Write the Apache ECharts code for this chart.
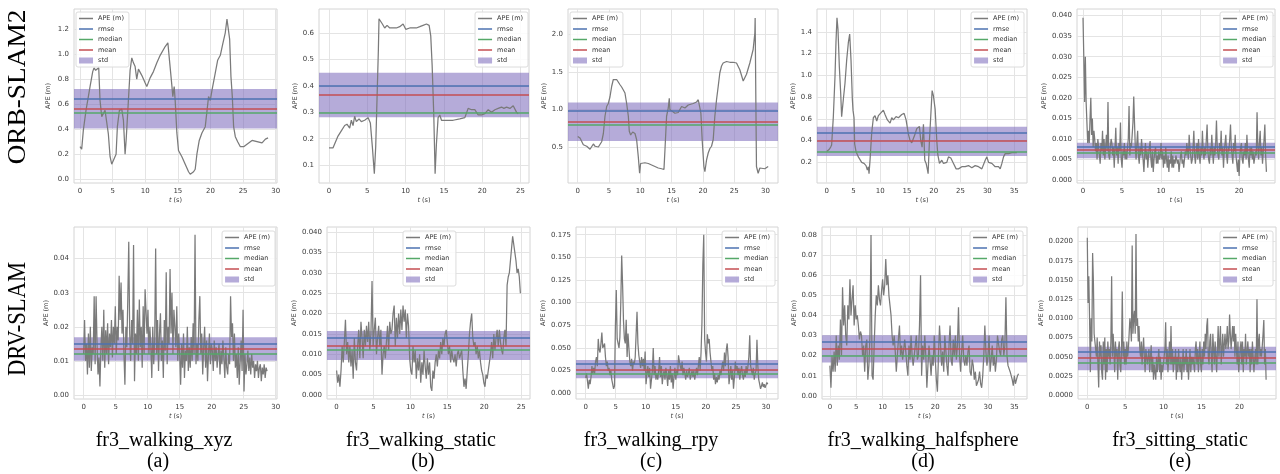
<!DOCTYPE html>
<html><head><meta charset="utf-8">
<script src="https://cdn.jsdelivr.net/npm/echarts@6/dist/echarts.min.js"></script>
<style>html,body{margin:0;padding:0;background:#fff}#c{width:1280px;height:474px}</style>
</head><body><div id="c"></div>
<script>
// ---------------- DATA ----------------
const rowLabels = ['ORB-SLAM2', 'DRV-SLAM'];
const seqNames = ['fr3_walking_xyz', 'fr3_walking_static', 'fr3_walking_rpy', 'fr3_walking_halfsphere', 'fr3_sitting_static'];
const subLetters = ['(a)', '(b)', '(c)', '(d)', '(e)'];
const legendNames = ['APE (m)', 'rmse', 'median', 'mean', 'std'];

// ORB-SLAM2 APE traces, [t (s), APE (m)]
const orbXyz = [[0,0.26],[0.26,0.24],[0.51,0.39],[0.92,0.55],[1.28,0.66],[1.54,0.74],[1.95,0.86],[2.15,0.89],[2.4,0.87],[2.56,0.88],[2.87,0.89],[3.07,0.63],[3.33,0.50],[3.58,0.51],[3.84,0.55],[4.10,0.54],[4.35,0.36],[4.61,0.18],[4.86,0.12],[5.12,0.12],[5.53,0.20],[5.73,0.42],[6.04,0.55],[6.40,0.56],[6.66,0.47],[6.91,0.20],[7.07,0.31],[7.42,0.63],[7.68,0.87],[7.94,0.97],[8.19,0.93],[8.45,0.90],[8.70,0.80],[8.96,0.88],[9.47,0.83],[9.98,0.77],[10.24,0.74],[10.75,0.81],[11.26,0.86],[11.78,0.93],[12.29,0.99],[13.06,1.06],[13.47,1.09],[13.72,0.95],[14.08,0.75],[14.23,0.66],[14.44,0.74],[14.59,0.63],[14.85,0.37],[15.10,0.23],[15.62,0.18],[16.13,0.12],[16.64,0.06],[16.90,0.04],[17.41,0.06],[17.66,0.08],[17.92,0.20],[18.28,0.31],[18.69,0.37],[19.20,0.42],[19.71,0.66],[19.97,0.63],[20.23,0.71],[20.74,0.85],[21.10,0.95],[21.51,0.99],[21.92,1.09],[22.27,1.17],[22.53,1.28],[22.73,1.29],[22.94,1.12],[23.14,0.82],[23.35,0.66],[23.55,0.42],[23.81,0.34],[24.17,0.30],[24.58,0.26],[25.09,0.26],[25.60,0.28],[26.37,0.31],[27.14,0.30],[27.91,0.29],[28.42,0.32],[28.83,0.33]];
const orbStatic = [[0,0.165],[0.52,0.165],[0.74,0.18],[1.18,0.21],[1.61,0.23],[2.05,0.25],[2.35,0.255],[2.70,0.24],[2.92,0.27],[3.14,0.25],[3.35,0.285],[3.57,0.265],[3.92,0.275],[4.22,0.265],[4.66,0.27],[5.10,0.28],[5.40,0.26],[5.66,0.17],[5.92,0.067],[6.10,0.17],[6.27,0.35],[6.45,0.54],[6.53,0.655],[6.71,0.65],[6.97,0.635],[7.27,0.62],[7.58,0.63],[7.93,0.62],[8.36,0.62],[8.80,0.62],[9.23,0.625],[9.67,0.635],[10.02,0.615],[10.54,0.62],[10.98,0.62],[11.41,0.62],[11.85,0.625],[12.28,0.63],[12.72,0.635],[13.07,0.63],[13.28,0.59],[13.46,0.48],[13.68,0.285],[13.85,0.067],[14.02,0.18],[14.24,0.28],[14.46,0.29],[14.68,0.27],[15.33,0.27],[16.20,0.27],[17.07,0.275],[17.73,0.28],[17.94,0.285],[18.16,0.315],[18.60,0.31],[19.03,0.31],[19.47,0.29],[19.90,0.29],[20.34,0.295],[20.78,0.31],[21.21,0.30],[21.65,0.31],[22.08,0.315],[22.52,0.32],[22.82,0.315],[23.17,0.32],[23.61,0.315],[24.04,0.325],[24.48,0.30],[24.69,0.295]];
const orbRpy = [[0,0.64],[0.37,0.62],[0.64,0.60],[0.90,0.53],[1.44,0.51],[1.97,0.47],[2.23,0.48],[2.50,0.54],[2.77,0.51],[3.30,0.50],[3.83,0.57],[4.10,0.68],[4.36,0.91],[4.63,1.04],[4.89,1.08],[5.16,1.17],[5.43,1.31],[5.69,1.40],[5.96,1.42],[6.22,1.40],[6.49,1.41],[6.76,1.33],[7.02,1.30],[7.29,1.26],[7.55,1.22],[7.82,1.08],[8.09,0.91],[8.24,0.71],[8.46,0.66],[8.78,0.70],[9.15,0.68],[9.41,0.60],[9.68,0.37],[9.89,0.15],[10.05,0.28],[10.21,0.30],[10.74,0.29],[11.28,0.28],[11.81,0.26],[12.34,0.24],[12.87,0.22],[13.40,0.21],[13.78,0.20],[13.94,0.46],[14.20,0.91],[14.47,1.02],[14.63,1.15],[14.73,1.00],[15.0,1.02],[15.53,0.95],[16.06,0.96],[16.60,1.04],[17.13,1.02],[17.66,1.06],[18.46,1.08],[18.99,1.10],[19.26,1.13],[19.52,1.02],[19.68,0.95],[19.89,0.59],[20.16,0.24],[20.32,0.17],[20.59,0.33],[20.85,0.42],[21.12,0.48],[21.38,0.51],[21.65,0.60],[21.91,0.91],[22.18,1.13],[22.45,1.31],[22.71,1.49],[22.98,1.58],[23.24,1.62],[23.78,1.64],[24.31,1.63],[24.84,1.63],[25.37,1.62],[25.90,1.53],[26.44,1.38],[26.70,1.38],[26.97,1.47],[27.50,1.62],[28.03,1.80],[28.30,2.02],[28.35,2.22],[28.46,1.13],[28.56,0.24],[28.83,0.15],[29.10,0.22],[29.36,0.24],[29.89,0.21],[30.43,0.24]];
const orbHalf = [[0,0.30],[0.50,0.32],[0.75,0.34],[0.93,0.36],[1.25,0.62],[1.56,0.99],[1.74,1.30],[1.93,1.53],[2.12,1.42],[2.37,1.08],[2.62,0.84],[2.80,0.62],[3.12,0.78],[3.43,0.93],[3.74,1.14],[4.05,1.30],[4.30,1.38],[4.55,1.14],[4.80,0.78],[4.92,0.68],[5.11,0.61],[5.23,0.37],[5.48,0.30],[5.92,0.25],[6.54,0.20],[6.98,0.19],[7.35,0.17],[7.60,0.13],[7.79,0.16],[7.91,0.095],[8.10,0.22],[8.41,0.47],[8.72,0.61],[9.03,0.63],[9.35,0.58],[9.66,0.63],[9.97,0.64],[10.59,0.68],[10.90,0.64],[11.34,0.59],[11.84,0.56],[12.15,0.61],[12.46,0.59],[12.96,0.62],[13.40,0.61],[14.02,0.64],[14.46,0.65],[14.83,0.59],[15.26,0.46],[15.58,0.40],[15.89,0.38],[16.20,0.39],[16.51,0.46],[16.82,0.51],[17.32,0.53],[17.57,0.40],[17.82,0.34],[18.07,0.55],[18.32,0.22],[18.57,0.19],[18.82,0.13],[18.94,0.095],[19.19,0.40],[19.44,0.63],[19.69,0.86],[19.94,0.81],[20.25,0.69],[20.56,0.40],[20.75,0.27],[21.06,0.19],[21.50,0.22],[21.81,0.19],[22.43,0.20],[22.74,0.25],[23.18,0.24],[23.68,0.19],[24.17,0.14],[24.61,0.14],[25.23,0.16],[25.86,0.16],[26.48,0.17],[27.10,0.15],[27.73,0.17],[28.35,0.16],[28.97,0.14],[29.60,0.22],[29.91,0.25],[30.22,0.20],[30.84,0.19],[31.46,0.16],[32.09,0.16],[32.40,0.14],[32.71,0.19],[33.02,0.25],[33.33,0.28],[33.96,0.28],[34.58,0.29],[35.51,0.29]];
// ORB-SLAM2 sitting_static, APE in mm, sampled every 0.1 s
const orbSitDt = 0.1;
const orbSitMm = [39.5,30,19,30,19,19,9,12,9,15, 20,11,15,8,12,10,7,9,5,10, 8,6,4,9,7,12,6,10,5,8, 11,7,19,6,5,8,10,9,6,8, 3,8,12.7,6,8,4,9,7,14,5, 3,7,6,9,5,7,5,8,10,18, 6,9,8,11,14,20.3,14,8,5,9, 12,6,4,8,6,10,7,5,2,6, 9,5,7,3,6,8,9.5,5,3,7, 2,5,7,8,4,6,4,7,5,6, 9,5,7,3,6,4,8,5,3,6, 2,5,4,7,3,6,3,5,4,6, 6,4,5,2,4,6,7,4,5,3, 5,7,6,9,7,5,11,8,6,4, 5,8,12,6,4,7,9,5,10,6, 4,8,6,12,7,5,8,6,10,13.5, 7,5,4,8,6,11,7,4,8,6, 9,14.5,8,6,5,9,7,12,6,8, 3,7,9,11,6,4,8,7,10,13.5, 8,6,4,9,7,11,6,4,2,5, 1,6,8,9,5,4,7,6,9,5, 11,7,5,3,8,6,8,5,7,4, 4,7,6,16.5,8,5,9,12,6,8, 4,7,10,13.5,6,2];

// DRV-SLAM APE traces in mm, regularly sampled
const drvXyzDt = 0.15;
const drvXyzMm = [12,22,10,15,6,18,8,20,7,14, 12,29,9,29,15,6,11,2.5,14,20, 10,25,8,19,12,21,9,18,14,22, 11,20,15,26,12,20,16,35,22,33, 18,25,12,3,20,14,28,45,18,10, 22,15,44,4,18,12,25,10,28,14, 20,8,26,12,31,31,18,25,12,20, 14,5,20,9,16,43,12,22,7,18, 24,10,16,5,22,13,36,9,20,15, 37,18,30,12,25,20,14,26,10,18, 12,3,15,8,18,5,13,10,20,7, 14,8,17,10,21,12,47,9,15,10, 22,29,12,18,6,14,20,8,16,4, 12,18,9,15,13,7,16,10,14,8, 12,15,6,13,9,16,11,5,14,8, 6,12,9,29,17,21,10,18,8,12, 5,14,3,10,16,7,25,1,12,6, 9,13,7,11,6,12,8,10,5,9, 7,10,5,8,9,4,8,6,9,5,8,7];
const drvStaticDt = 0.15;
const drvStaticMm = [6,3,5,2,6,12,8,13,18.5,10, 13,8,12,7,11,4,14,8,6,12, 16,9,18,14,9,16,12,17,13,18, 11,15,28,12,16,19,10,14,17,12, 16,5,10,12,9,13,17,11,18,15, 16,20,22,12,19,14,20,15,21,16, 22,18,21,14,20,17,9,6,5,12, 8,11,4,9,6,10,3,8,5,11, 7,4,9,5,8,2,1,6,4,8, 10,7,11,9,13,10,14,12,15,16, 13,10,12,8,11,9,8,10,7,10, 11,9,10,11,6,2,4,1.5,6,10, 15,18,20,14,12,13,10,12,9,11, 8,6,5,3,2,5,4,6,8,10, 13,9,15,11,14,16,12,16,13,11, 10,14,16,12,27,29,30,33,36,39, 37,35,33,30,31,29,25];
const drvRpyDt = 0.15;
const drvRpyMm = [17,22,14,5,15,10,18,30,22,28, 22,35,40,30,60,48,45,55,67,50, 52,55,40,30,35,25,28,20,25,15, 10,5,8,73,114,60,55,50,62,100, 152,120,80,60,55,81,40,66,50,35, 30,38,25,35,32,40,38,90,55,42, 35,28,40,30,38,25,46,10,22,30, 18,28,5,15,25,50,20,30,15,22, 15,25,40,18,30,10,20,25,15,28, 20,8,25,15,30,12,22,5,18,28, 15,25,20,42,35,30,25,35,20,28, 22,15,25,18,22,28,15,20,25,18, 25,15,22,28,20,30,40,25,45,78, 142,175,60,45,35,65,55,60,45,35, 25,30,15,22,10,18,12,20,15,25, 20,28,35,25,45,30,48,55,40,10, 20,30,15,25,5,18,35,25,30,20, 28,15,25,30,20,15,25,18,30,22, 30,40,64,30,25,20,28,15,22,25, 59,30,15,10,5,8,12,7,10,6, 8,12,10,11];
const drvHalfDt = 0.2;
const drvHalfMm = [15,4,20,12,22,12,30,15,25,18, 38,20,54,35,45,30,25,45,38,58, 40,48,55,35,45,38,40,35,28,32, 30,20,25,12,25,28,8,15,30,80, 10,8,25,40,50,45,55,48,45,52, 58,50,55,68,55,60,50,45,40,30, 25,30,22,12,20,28,35,20,25,18, 18,28,22,15,10,25,18,30,20,15, 15,25,30,18,20,35,60,10,25,18, 30,20,4,15,25,18,10,20,15,30, 18,8,2,20,35,25,15,22,12,30, 30,15,10,25,35,18,15,28,20,30, 18,25,44,20,12,22,30,18,15,20, 15,22,25,12,10,18,15,8,12,5, 5,8,12,6,4,10,20,35,22,15, 20,30,12,18,25,15,20,12,18,30, 30,22,20,28,30,20,25,49,20,15, 15,12,10,8,5,10,6,8,10,11];
const drvSitDt = 0.1;
const drvSitMm = [20.5,12,15.5,10,3,10,7,18.5,15,8, 8,6,5,7.5,4,1,7,5,6.5,3, 2,7,4,7.5,2,6,3,7,5,6, 4,7,15.5,5,8,6,3,7,5,6, 2,6,7,4,3,6,13.5,5,7,4, 6,4,7,5,6,8,10,9,7,19.5, 8,10,11,8,21,9,10,7,9,6, 5,7,4,6,7.5,5,3,6,5,4, 4,6,3,5,6.5,3,5,2,4,3, 2,5,3,4.5,6,3,5,2,4,3, 3,5,6,9.5,4,6,3,5,7,4, 9,4,6,3,5,4,6,2,5,3, 6,4,3,5,2,4,6,3,5,4, 6,3,5,2,4,6,3,5,4,5, 5,3,6,7,4,6,3,5,7,4, 3,6,4,7,5,8,6,9,10,5, 4,7,8,5,3,8,6,4,7,5, 3,6,9,5,7,9,4,6,8,5, 5,8,6,7,9,6,7,10.5,8,6, 6,9,7,9,5,8,6,4,7,3, 3,6,7,4,7,3,6,5,8,4, 4,7,5,6,3,6,4,7,5,3, 3,6,4,12.5,4,7,8,5,6,5, 5,8,9.8,4,6,2];

// statistics (m), order: ORB a-e, DRV a-e
const rmseVals   = [0.64, 0.40, 0.98, 0.474, 0.0082, 0.0150, 0.0141, 0.0324, 0.0269, 0.00565];
const medianVals = [0.53, 0.30, 0.80, 0.295, 0.0067, 0.0120, 0.0111, 0.0217, 0.0199, 0.00422];
const meanVals   = [0.56, 0.365, 0.835, 0.394, 0.0073, 0.0135, 0.0122, 0.0265, 0.0233, 0.00483];
const stdLow     = [0.405, 0.281, 0.58, 0.258, 0.0053, 0.0100, 0.0086, 0.0165, 0.0166, 0.00326];
const stdHigh    = [0.72, 0.45, 1.094, 0.527, 0.0091, 0.0169, 0.0157, 0.0368, 0.0301, 0.0063];

// tick labels
const xTicks30 = [0, 5, 10, 15, 20, 25, 30];
const xTicks25 = [0, 5, 10, 15, 20, 25];
const xTicks35 = [0, 5, 10, 15, 20, 25, 30, 35];
const xTicks20 = [0, 5, 10, 15, 20];
const yTicksOrbXyz = [0.0, 0.2, 0.4, 0.6, 0.8, 1.0, 1.2];
const yTicksOrbStatic = [0.1, 0.2, 0.3, 0.4, 0.5, 0.6];
const yTicksOrbRpy = [0.5, 1.0, 1.5, 2.0];
const yTicksOrbHalf = [0.2, 0.4, 0.6, 0.8, 1.0, 1.2, 1.4];
const yTicksOrbSit = [0, 0.005, 0.010, 0.015, 0.020, 0.025, 0.030, 0.035, 0.040];
const yTicksDrvXyz = [0, 0.01, 0.02, 0.03, 0.04];
const yTicksDrvStatic = [0, 0.005, 0.010, 0.015, 0.020, 0.025, 0.030, 0.035, 0.040];
const yTicksDrvRpy = [0, 0.025, 0.050, 0.075, 0.100, 0.125, 0.150, 0.175];
const yTicksDrvHalf = [0, 0.01, 0.02, 0.03, 0.04, 0.05, 0.06, 0.07, 0.08];
const yTicksDrvSit = [0, 0.0025, 0.0050, 0.0075, 0.0100, 0.0125, 0.0150, 0.0175, 0.0200];

// ---------------- BUILD ----------------
const mmSeries = (vals, dt) => vals.map((v, i) => [Math.round(i * dt * 1000) / 1000, v / 1000]);

const panels = [
  {data: orbXyz, xr: [-0.92, 30.2], yr: [-0.03, 1.36], xt: xTicks30, yt: yTicksOrbXyz, dec: 1},
  {data: orbStatic, xr: [-1.3, 26.1], yr: [0.032, 0.692], xt: xTicks25, yt: yTicksOrbStatic, dec: 1},
  {data: orbRpy, xr: [-1.55, 32.0], yr: [0.02, 2.34], xt: xTicks30, yt: yTicksOrbRpy, dec: 1},
  {data: orbHalf, xr: [-1.8, 37.4], yr: [0.01, 1.61], xt: xTicks35, yt: yTicksOrbHalf, dec: 1},
  {data: mmSeries(orbSitMm, orbSitDt), xr: [-0.77, 24.6], yr: [-0.0007, 0.0416], xt: xTicks20, yt: yTicksOrbSit, dec: 3},
  {data: mmSeries(drvXyzMm, drvXyzDt), xr: [-1.5, 30.2], yr: [-0.0012, 0.0493], xt: xTicks30, yt: yTicksDrvXyz, dec: 2},
  {data: mmSeries(drvStaticMm, drvStaticDt), xr: [-1.3, 26.2], yr: [-0.001, 0.0413], xt: xTicks25, yt: yTicksDrvStatic, dec: 3},
  {data: mmSeries(drvRpyMm, drvRpyDt), xr: [-1.6, 32.0], yr: [-0.0063, 0.1835], xt: xTicks30, yt: yTicksDrvRpy, dec: 3},
  {data: mmSeries(drvHalfMm, drvHalfDt), xr: [-1.5, 37.4], yr: [-0.0016, 0.084], xt: xTicks35, yt: yTicksDrvHalf, dec: 2},
  {data: mmSeries(drvSitMm, drvSitDt), xr: [-1.22, 24.8], yr: [-0.0005, 0.0219], xt: xTicks20, yt: yTicksDrvSit, dec: 4}
];

// layout: plot boxes, y-name gaps and legend placement
const layout = [
  {l: 74, t: 9, w: 203, h: 174, ng: 22, lg: {left: 76, top: 12}},
  {l: 319, t: 9, w: 210, h: 174, ng: 18, lg: {right: 752, top: 12}},
  {l: 568, t: 9, w: 210, h: 174, ng: 19, lg: {left: 570, top: 12}},
  {l: 817, t: 9, w: 210, h: 174, ng: 17, lg: {right: 256, top: 12}},
  {l: 1077, t: 9, w: 198, h: 174, ng: 28, lg: {right: 7, top: 12}},
  {l: 74, t: 227, w: 203, h: 172, ng: 22, lg: {right: 1005, top: 231}},
  {l: 327, t: 227, w: 203, h: 172, ng: 26, lg: {left: 403, top: 231}},
  {l: 576, t: 227, w: 202, h: 172, ng: 27, lg: {right: 505, top: 231}},
  {l: 822, t: 227, w: 205, h: 172, ng: 23, lg: {right: 257, top: 231}},
  {l: 1078, t: 227, w: 198, h: 172, ng: 29, lg: {right: 7, top: 231}}
];

const C = {ape: '#7a7a7a', rmse: '#4c72b0', median: '#55a868', mean: '#c44e52', std: 'rgba(118,100,184,0.54)'};
const FONT = 'DejaVu Sans';
const tickColor = '#3a3a3a';
const LINE_ICON = 'path://M0,0 L28,0 L28,3 L0,3 Z';

const grid = [], xAxis = [], yAxis = [], series = [], legend = [];
panels.forEach((p, i) => {
  const L = layout[i];
  grid.push({left: L.l, top: L.t, width: L.w, height: L.h, show: true, borderColor: '#d4d4d4', borderWidth: 1, backgroundColor: '#fff'});
  xAxis.push({
    type: 'value', gridIndex: i, min: p.xr[0], max: p.xr[1],
    axisLine: {show: false}, axisTick: {show: false, customValues: p.xt},
    axisLabel: {customValues: p.xt, fontSize: 7, color: tickColor, fontFamily: FONT, margin: 5, formatter: v => String(v)},
    splitLine: {show: true, lineStyle: {color: '#e4e4e4', width: 1}},
    name: '{i|t} (s)', nameLocation: 'middle', nameGap: 14,
    nameTextStyle: {fontSize: 6.5, color: tickColor, fontFamily: FONT, rich: {i: {fontStyle: 'italic', fontSize: 6.5, color: tickColor, fontFamily: FONT}}}
  });
  yAxis.push({
    type: 'value', gridIndex: i, min: p.yr[0], max: p.yr[1],
    axisLine: {show: false}, axisTick: {show: false, customValues: p.yt},
    axisLabel: {customValues: p.yt, fontSize: 7, color: tickColor, fontFamily: FONT, margin: 5, formatter: v => v.toFixed(p.dec)},
    splitLine: {show: true, lineStyle: {color: '#e4e4e4', width: 1}},
    name: 'APE (m)', nameLocation: 'middle', nameGap: L.ng, nameRotate: 90,
    nameTextStyle: {fontSize: 6.5, color: tickColor, fontFamily: FONT}
  });
  series.push({
    type: 'line', name: 'APE (m)', xAxisIndex: i, yAxisIndex: i, data: p.data,
    symbol: 'none', showSymbol: false, color: C.ape, lineStyle: {color: C.ape, width: 1.25}, z: 2, animation: false
  });
  series.push({
    type: 'line', name: 'std', xAxisIndex: i, yAxisIndex: i, data: [], symbol: 'none', color: C.std, z: 3, animation: false,
    markArea: {silent: true, precision: 10, itemStyle: {color: C.std}, data: [[{yAxis: stdLow[i]}, {yAxis: stdHigh[i]}]]}
  });
  [['rmse', rmseVals], ['median', medianVals], ['mean', meanVals]].forEach(([nm, arr]) => {
    series.push({
      type: 'line', name: nm, xAxisIndex: i, yAxisIndex: i, data: [], symbol: 'none', color: C[nm],
      lineStyle: {color: C[nm], width: 1.5}, z: 4, animation: false,
      markLine: {silent: true, precision: 10, symbol: ['none', 'none'], label: {show: false}, animation: false,
        lineStyle: {color: C[nm], width: 1.5, type: 'solid'}, data: [{yAxis: arr[i]}]}
    });
  });
  legend.push(Object.assign({
    orient: 'vertical', itemWidth: 14, itemHeight: 6, itemGap: 3.5, padding: [3, 5, 3, 3],
    backgroundColor: 'rgba(255,255,255,0.85)', borderColor: '#dcdcdc', borderWidth: 1, borderRadius: 2,
    selectedMode: false, textStyle: {fontSize: 6.5, color: '#333', fontFamily: FONT},
    data: legendNames.map(n => n === 'std'
      ? {name: n, icon: 'rect', itemStyle: {color: C.std}}
      : {name: n, icon: LINE_ICON, itemStyle: {color: C[n === 'APE (m)' ? 'ape' : n]}})
  }, L.lg));
});

// text labels
const rowLabelPos = [{x: 18, y: 87, sx: 1.05}, {x: 18, y: 319, sx: 0.87}];
const bottomPos = [{x: 164, sx: 158}, {x: 421, sx: 423}, {x: 651, sx: 651}, {x: 923, sx: 923}, {x: 1180, sx: 1180}];
const graphic = [];
rowLabels.forEach((t, i) => graphic.push({
  type: 'text', x: rowLabelPos[i].x, y: rowLabelPos[i].y, rotation: Math.PI / 2, scaleX: rowLabelPos[i].sx,
  style: {text: t, font: '26px "Liberation Serif"', fill: '#000', textAlign: 'center', textVerticalAlign: 'middle', align: 'center', verticalAlign: 'middle'}
}));
seqNames.forEach((t, i) => {
  graphic.push({type: 'text', x: bottomPos[i].x, y: 441,
    style: {text: t, font: '20px "Liberation Serif"', fill: '#000', textAlign: 'center', textVerticalAlign: 'middle', align: 'center', verticalAlign: 'middle'}});
  graphic.push({type: 'text', x: bottomPos[i].sx, y: 462,
    style: {text: subLetters[i], font: '20px "Liberation Serif"', fill: '#000', textAlign: 'center', textVerticalAlign: 'middle', align: 'center', verticalAlign: 'middle'}});
});

const chart = echarts.init(document.getElementById('c'), null, {renderer: 'canvas'});
chart.setOption({animation: false, backgroundColor: '#fff', grid, xAxis, yAxis, series, legend, graphic});
</script>
</body></html>
